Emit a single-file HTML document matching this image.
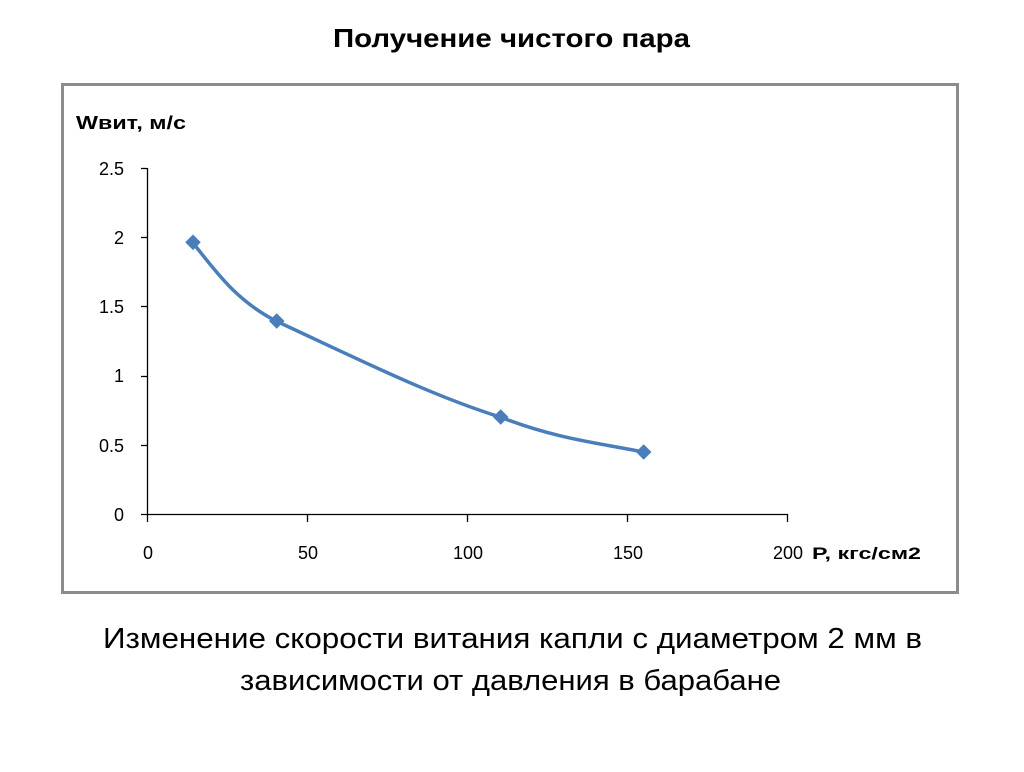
<!DOCTYPE html>
<html><head><meta charset="utf-8"><style>
html,body{margin:0;padding:0;background:#fff;}
body{width:1024px;height:767px;overflow:hidden;}
</style></head><body>
<svg width="1024" height="767" viewBox="0 0 1024 767" xmlns="http://www.w3.org/2000/svg" font-family="Liberation Sans, DejaVu Sans, sans-serif">
<text x="333" y="47" font-size="26" font-weight="bold" fill="#000" textLength="357" lengthAdjust="spacingAndGlyphs">Получение чистого пара</text>
<rect x="62.5" y="84.5" width="895" height="508" fill="#fff" stroke="#8c8c8c" stroke-width="3"/>
<text x="76" y="129" font-size="18" font-weight="bold" fill="#000" textLength="110" lengthAdjust="spacingAndGlyphs">Wвит, м/с</text>
<g stroke="#000" stroke-width="1.3" fill="none">
<line x1="147.5" y1="168" x2="147.5" y2="522"/>
<line x1="141" y1="514.5" x2="788" y2="514.5"/>
<line x1="141" y1="168.5" x2="147" y2="168.5"/>
<line x1="141" y1="237.5" x2="147" y2="237.5"/>
<line x1="141" y1="306.5" x2="147" y2="306.5"/>
<line x1="141" y1="376.5" x2="147" y2="376.5"/>
<line x1="141" y1="445.5" x2="147" y2="445.5"/>
<line x1="307.5" y1="514" x2="307.5" y2="522"/>
<line x1="467.5" y1="514" x2="467.5" y2="522"/>
<line x1="627.5" y1="514" x2="627.5" y2="522"/>
<line x1="787.5" y1="514" x2="787.5" y2="522"/>
</g>
<g font-size="18" fill="#000" text-anchor="end">
<text x="124" y="175">2.5</text>
<text x="124" y="244">2</text>
<text x="124" y="313">1.5</text>
<text x="124" y="382">1</text>
<text x="124" y="452">0.5</text>
<text x="124" y="521">0</text>
</g>
<g font-size="18" fill="#000" text-anchor="middle">
<text x="148" y="559">0</text>
<text x="308" y="559">50</text>
<text x="468" y="559">100</text>
<text x="628" y="559">150</text>
<text x="788" y="559">200</text>
</g>
<text x="812" y="559" font-size="17" font-weight="bold" fill="#000" textLength="109" lengthAdjust="spacingAndGlyphs">P, кгс/см2</text>
<path d="M193,243 C215,270 235,300 276,321 C360,360 430,395 500,417 C560,440 600,443 643,452" fill="none" stroke="#4a7ebb" stroke-width="3.5"/>
<g fill="#4a7ebb">
<rect x="187" y="237" width="11" height="11" transform="rotate(45 193 243)"/>
<rect x="271" y="315" width="11" height="11" transform="rotate(45 276 321)"/>
<rect x="495" y="411" width="11" height="11" transform="rotate(45 500 417)"/>
<rect x="638" y="446" width="11" height="11" transform="rotate(45 643 452)"/>
</g>
<text x="103" y="648" font-size="29" fill="#000" textLength="819" lengthAdjust="spacingAndGlyphs">Изменение скорости витания капли с диаметром 2 мм в</text>
<text x="240" y="690" font-size="29" fill="#000" textLength="541" lengthAdjust="spacingAndGlyphs">зависимости от давления в барабане</text>
</svg>
</body></html>
